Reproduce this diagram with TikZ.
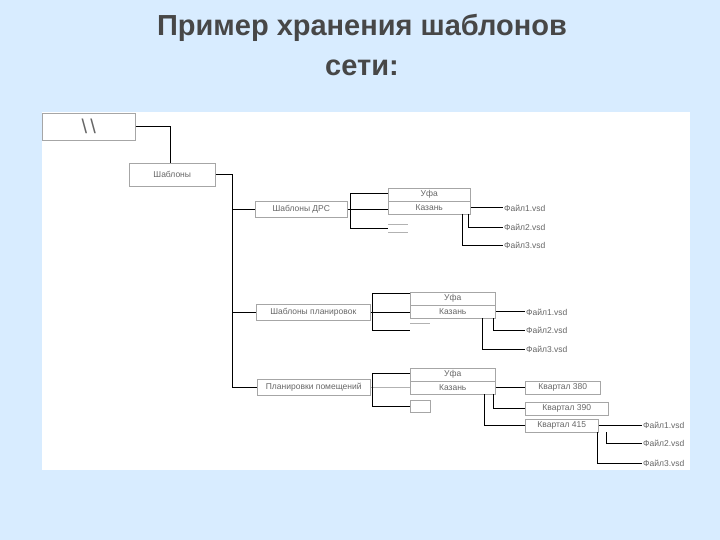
\documentclass[tikz,border=0pt]{standalone}
\usepackage{fontspec}
\setmainfont{Liberation Sans}
\begin{document}
\begin{tikzpicture}[x=1pt,y=-1pt,
  bx/.style={draw=gray!70,fill=white,line width=0.5pt,inner sep=0pt,anchor=north west,font=\fontsize{8.5}{9}\selectfont,text=gray!80!black},
  lbl/.style={inner sep=1pt,anchor=west,font=\fontsize{8.5}{9}\selectfont,text=gray!80!black},
  ln/.style={draw=black,line width=0.9pt},
  fl/.style={draw=gray!60,line width=0.6pt}]
\useasboundingbox (0,0) rectangle (720,540);
\fill[blue!8!white!92!cyan] (0,0) rectangle (720,540);
\fill[white] (42,112) rectangle (690,470);
\node[font=\fontsize{29}{40}\bfseries\selectfont,text=black!72,align=center] (title) at (362,45) {Пример хранения шаблонов\\сети:};
% boxes
\node[bx,minimum width=93pt,minimum height=27pt] (root) at (42,113) {\fontsize{20}{20}\selectfont\textbackslash\,\textbackslash};
\node[bx,minimum width=86pt,minimum height=23pt] (shab) at (129,163) {Шаблоны};
\node[bx,minimum width=92pt,minimum height=16pt] (drs) at (255,201) {Шаблоны ДРС};
\node[bx,minimum width=114pt,minimum height=16pt] (plan) at (256,304) {Шаблоны планировок};
\node[bx,minimum width=113pt,minimum height=16pt] (pom) at (257,379) {Планировки помещений};
% group 1
\node[bx,minimum width=82pt,minimum height=13pt] (u1) at (388,188) {Уфа};
\node[bx,minimum width=82pt,minimum height=13pt] (k1) at (388,201) {Казань};
\node[lbl] (f11) at (503,208) {Файл1.vsd};
\node[lbl] (f12) at (503,227) {Файл2.vsd};
\node[lbl] (f13) at (503,245) {Файл3.vsd};
% group 2
\node[bx,minimum width=85pt,minimum height=13pt] (u2) at (410,292) {Уфа};
\node[bx,minimum width=85pt,minimum height=13pt] (k2) at (410,305) {Казань};
\node[lbl] (f21) at (525,312) {Файл1.vsd};
\node[lbl] (f22) at (525,330) {Файл2.vsd};
\node[lbl] (f23) at (525,349) {Файл3.vsd};
% group 3
\node[bx,minimum width=85pt,minimum height=13pt] (u3) at (410,368) {Уфа};
\node[bx,minimum width=85pt,minimum height=13pt] (k3) at (410,381) {Казань};
\node[bx,minimum width=20pt,minimum height=12pt] (e3) at (410,400) {};
\node[bx,minimum width=75pt,minimum height=13pt] (q1) at (525,381) {Квартал 380};
\node[bx,minimum width=83pt,minimum height=13pt] (q2) at (525,402) {Квартал 390};
\node[bx,minimum width=73pt,minimum height=13pt] (q3) at (525,419) {Квартал 415};
\node[lbl] (f31) at (642,425) {Файл1.vsd};
\node[lbl] (f32) at (642,443) {Файл2.vsd};
\node[lbl] (f33) at (642,463) {Файл3.vsd};
% faint stubs
\coordinate (s1a) at (388,224); \coordinate (s1b) at (408,224);
\coordinate (s1c) at (388,232); \coordinate (s1d) at (408,232);
\draw[fl] (s1a) -- (s1b) (s1c) -- (s1d);
\coordinate (s2a) at (410,323); \coordinate (s2b) at (430,323);
\draw[fl] (s2a) -- (s2b);
% trunk
\coordinate (t0) at (232,0);
\draw[ln] (root.east) -| (shab.north -| 170,0);
\draw[ln] (shab.east) -| (t0 |- pom.west) -- (pom.west);
\draw[ln] (t0 |- drs.west) -- (drs.west);
\draw[ln] (t0 |- plan.west) -- (plan.west);
% group 1
\draw[ln] (drs.east) -- (drs.east -| k1.west);
\draw[ln] (u1.west |- 0,193) -| (350,228) -- (388,228);
\draw[ln] (k1.east) -- (k1.east -| f11.west);
\draw[ln] (468,214) |- (f12.west);
\draw[ln] (462,214) |- (f13.west);
% group 2
\draw[ln] (plan.east) -- (plan.east -| k2.west);
\draw[ln] (410,293) -| (372,330) -- (410,330);
\draw[ln] (k2.east) -- (k2.east -| f21.west);
\draw[ln] (493,318) |- (f22.west);
\draw[ln] (482,318) |- (f23.west);
% group 3
\draw[fl] (pom.east) -- (pom.east -| k3.west);
\draw[ln] (u3.west |- 0,373) -| (372,406) -- (e3.west |- 0,406);
\draw[ln] (k3.east) -- (k3.east -| q1.west);
\draw[ln] (493,394) |- (q2.west);
\draw[ln] (484,394) |- (q3.west);
\draw[ln] (q3.east) -- (q3.east -| f31.west);
\draw[ln] (606,432) |- (f32.west);
\draw[ln] (597,432) |- (f33.west);
\end{tikzpicture}
\end{document}
